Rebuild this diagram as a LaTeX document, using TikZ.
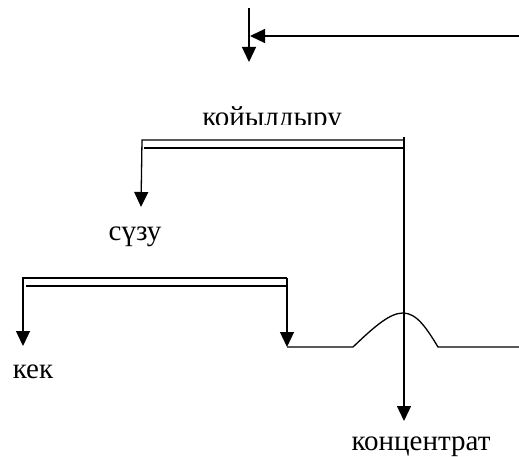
\documentclass[tikz,border=0pt]{standalone}
\usepackage{fontspec}
\setmainfont{Liberation Serif}
\usetikzlibrary{arrows.meta}
\begin{document}
\begin{tikzpicture}[
    x=1pt, y=-1pt,
    line/.style={line width=1.3pt},
    arr/.style={line, -{Triangle[length=15pt, width=14pt]}},
    lbl/.style={inner sep=0pt, anchor=base, font=\fontsize{29}{34}\selectfont}
]
\useasboundingbox (0,0) rectangle (519,457);
% feed
\coordinate (in) at (519,36);
\coordinate (top) at (249,8);
\coordinate (down) at (249,62);
\draw[arr] (top) -- (down);
\draw[arr] (in) -- (250,36);
% thickening
\begin{scope}
  \clip (150,100) rectangle (400,125);
  \node[lbl] (thick) at (272,127) {койылдыру};
\end{scope}
\coordinate (t1) at (404,140);
\coordinate (t2) at (142,140);
\coordinate (t3) at (144,148);
\coordinate (t4) at (405,148);
\coordinate (conc) at (404,421);
\draw[line] (404,137) -- (t1);
\draw[arr] (t1) -- (t2) -- (141,207);
\draw[line] (t3) -- (t4);
\draw[arr] (404,137) -- (conc);
\node[lbl] (filt) at (135,240) {сүзу};
% filtering
\coordinate (f1) at (287,278);
\coordinate (f2) at (23,278);
\coordinate (f3) at (26,286);
\draw[arr] (f1) -- (f2) -- (23,346);
\draw[line] (f3) -- (287,286);
\draw[arr] (f1) -- (287,347);
\node[lbl] (cake) at (33,378) {кек};
% tank
\draw[line] (287,347) -- (353,347)
  .. controls (375,326) and (390,313) .. (403,313)
  .. controls (417,313) and (427,329) .. (438,347) -- (519,347);
\node[lbl] (out) at (421,450) {концентрат};
\end{tikzpicture}
\end{document}
